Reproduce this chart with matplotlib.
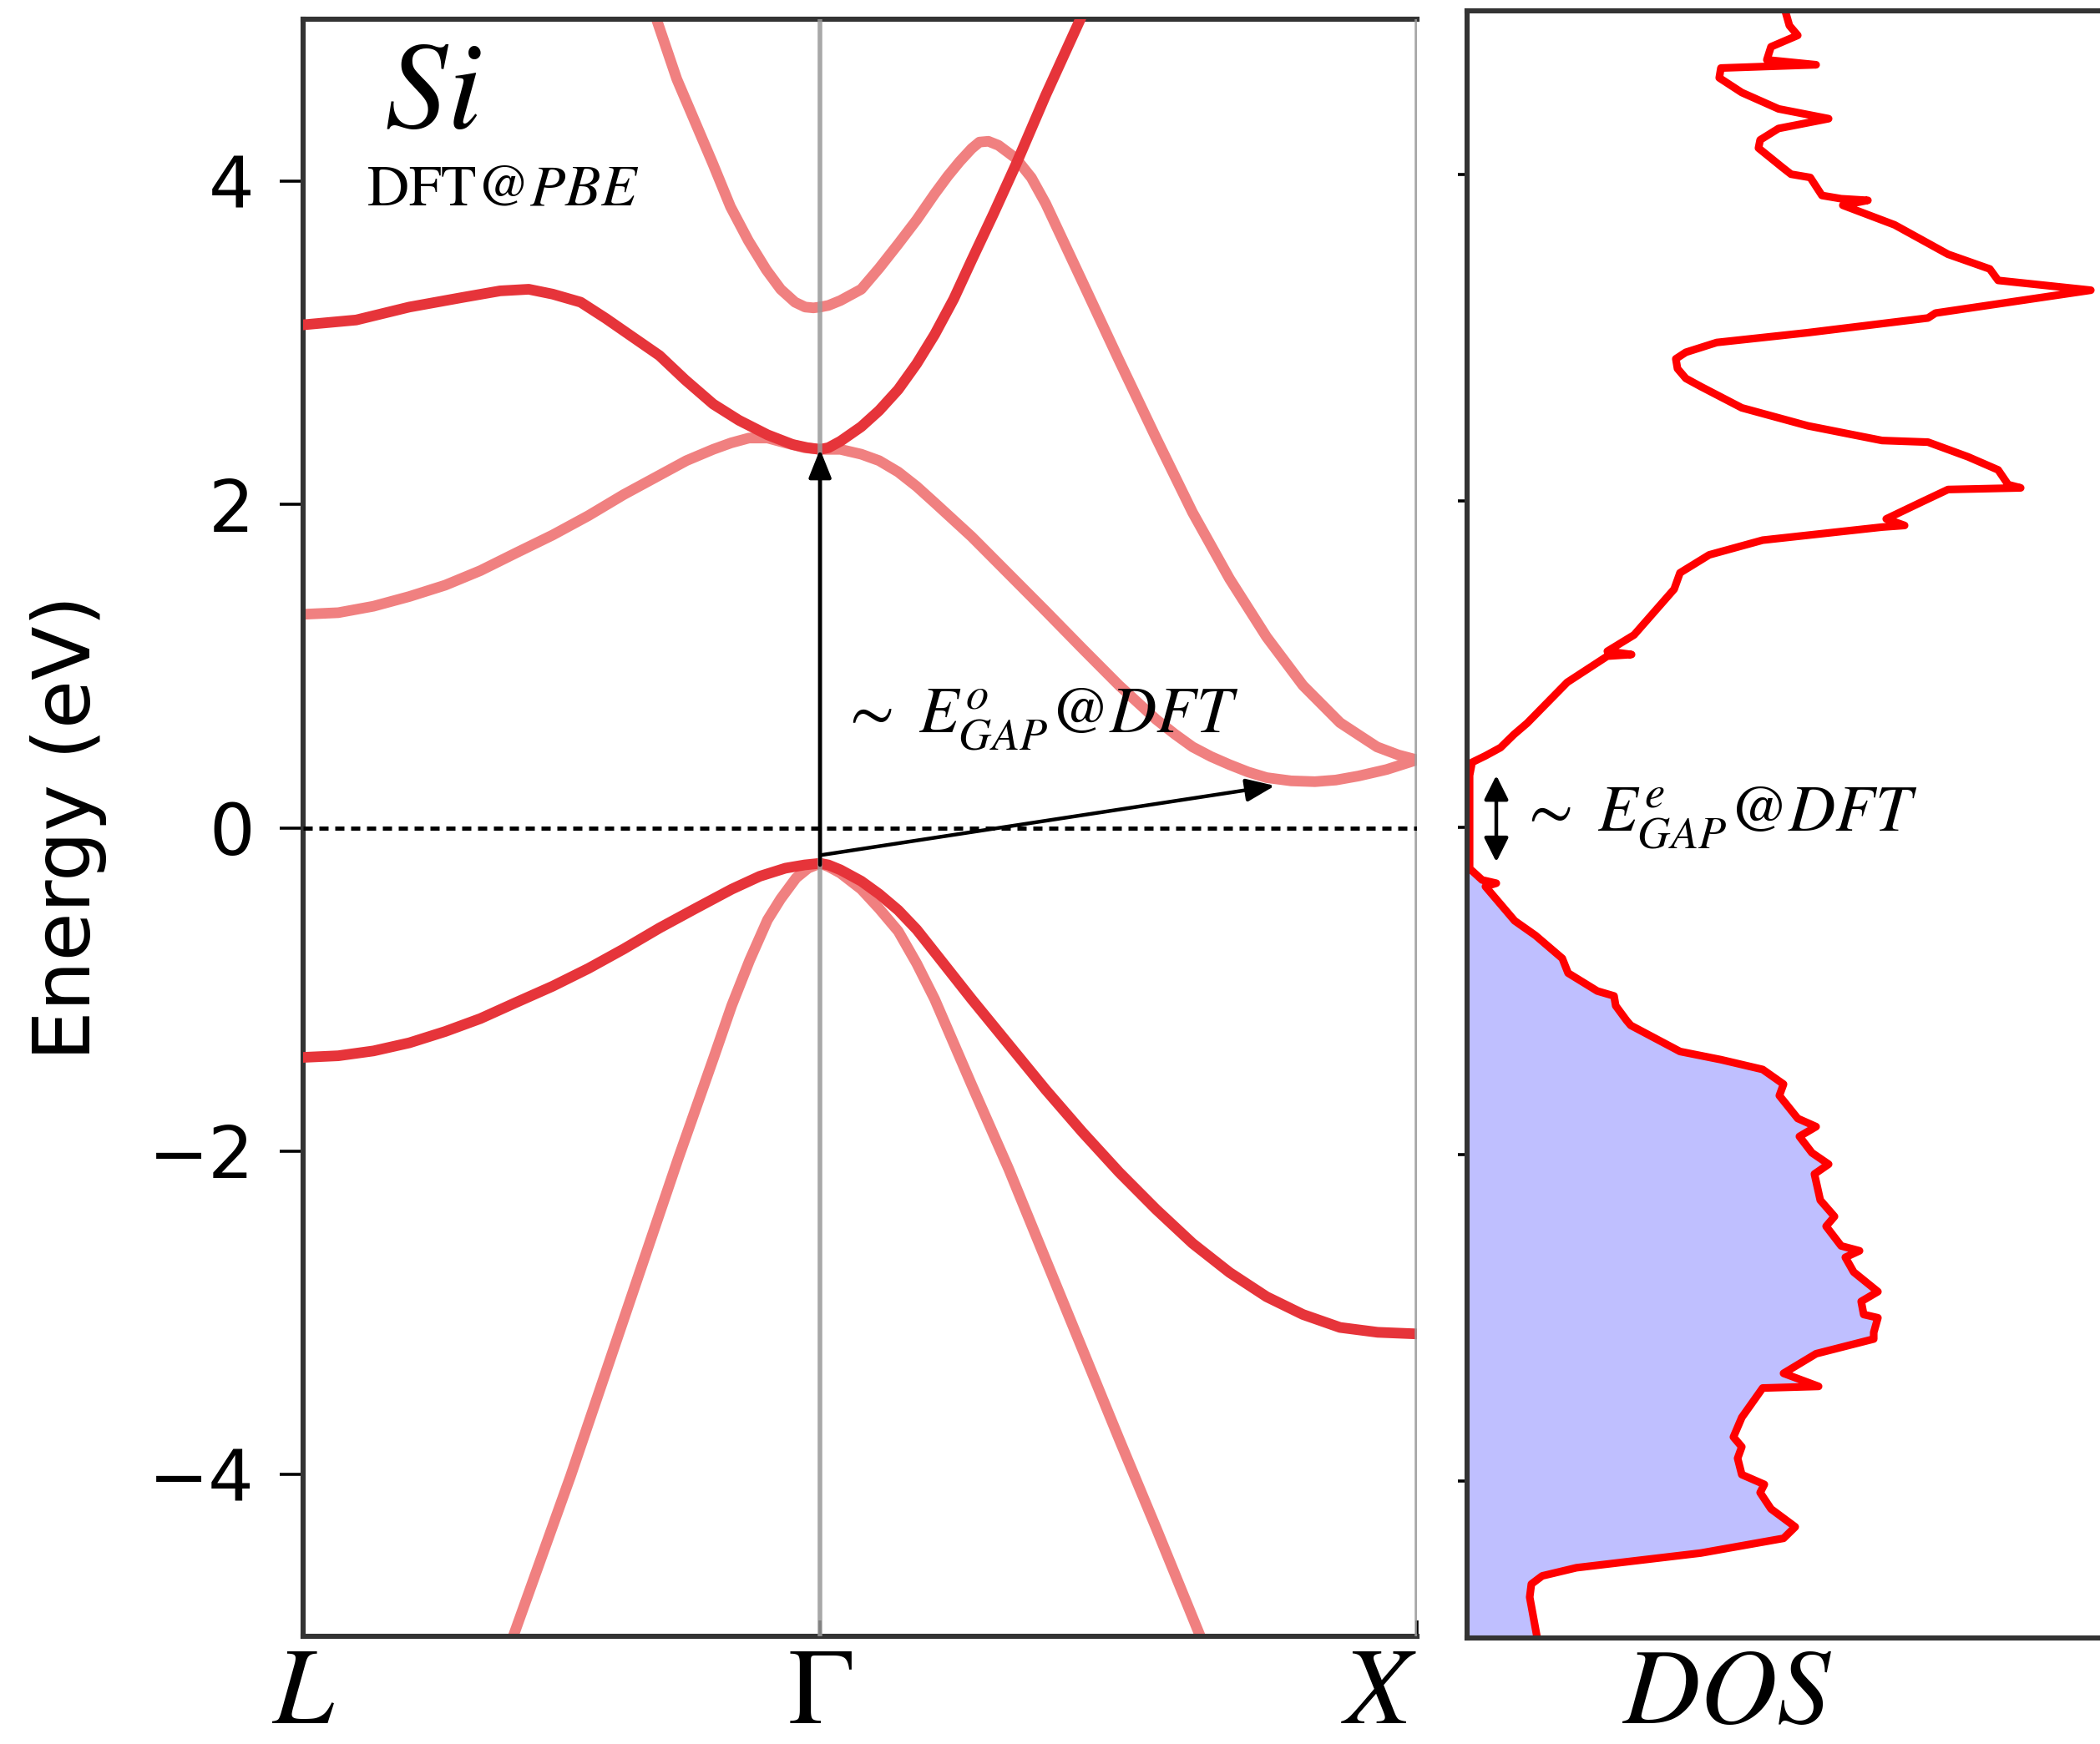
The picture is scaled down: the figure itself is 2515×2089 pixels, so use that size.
import matplotlib
matplotlib.use('Agg')
import matplotlib.pyplot as plt
import numpy as np

plt.rcParams['font.family'] = ['DejaVu Sans']
plt.rcParams['mathtext.fontset'] = 'stix'

# high-symmetry points along the path (distance in 2pi/a)
k_ticks = [0.0, 0.866, 1.866]
k_labels = [r'$L$', r'$\Gamma$', r'$X$']

# bands: (k, E in eV)
# doubly degenerate bands are drawn darker
cb2_lg_k = [0.0, 0.089, 0.178, 0.268, 0.330, 0.378, 0.418, 0.465, 0.507, 0.55, 0.597, 0.64, 0.687,
            0.73, 0.778, 0.82, 0.845, 0.866]
cb2_lg_e = [3.11, 3.14, 3.22, 3.28, 3.32, 3.33, 3.30, 3.25, 3.15, 3.04, 2.92, 2.77, 2.62,
            2.52, 2.43, 2.37, 2.35, 2.34]
cb1_lg_k = [0.0, 0.059, 0.118, 0.178, 0.238, 0.297, 0.357, 0.418, 0.478, 0.537, 0.597, 0.642,
            0.687, 0.717, 0.747, 0.778, 0.808, 0.84, 0.866]
cb1_lg_e = [1.32, 1.33, 1.37, 1.43, 1.50, 1.59, 1.70, 1.81, 1.93, 2.06, 2.18, 2.27,
            2.34, 2.38, 2.41, 2.41, 2.38, 2.35, 2.34]
cb3_lg_k = [0.555, 0.592, 0.626, 0.656, 0.686, 0.716, 0.746, 0.776, 0.800, 0.824, 0.841, 0.855, 0.866]
cb3_lg_e = [5.3, 5.0, 4.63, 4.37, 4.11, 3.84, 3.63, 3.45, 3.33, 3.25, 3.22, 3.215, 3.22]
vb1_lg_k = [0.0, 0.059, 0.118, 0.178, 0.238, 0.297, 0.357, 0.418, 0.478, 0.537, 0.597, 0.657,
            0.718, 0.765, 0.808, 0.84, 0.866]
vb1_lg_e = [-1.42, -1.41, -1.38, -1.33, -1.26, -1.18, -1.08, -0.98, -0.87, -0.75, -0.62, -0.50,
            -0.38, -0.30, -0.25, -0.23, -0.22]
vb2_lg_k = [0.32, 0.352, 0.448, 0.538, 0.628, 0.688, 0.718, 0.748, 0.778, 0.80, 0.826, 0.846, 0.866]
vb2_lg_e = [-5.3, -5.0, -4.01, -3.03, -2.05, -1.42, -1.10, -0.82, -0.57, -0.44, -0.31, -0.25, -0.22]

cb2_gx_k = [0.866, 0.88, 0.90, 0.935, 0.965, 0.997, 1.028, 1.058, 1.090, 1.120, 1.157, 1.194,
            1.244, 1.302, 1.34]
cb2_gx_e = [2.34, 2.35, 2.39, 2.48, 2.58, 2.71, 2.87, 3.05, 3.27, 3.51, 3.80, 4.10,
            4.53, 5.0, 5.3]
cb3_gx_k = [0.866, 0.88, 0.90, 0.935, 0.965, 0.997, 1.028, 1.058, 1.08, 1.10, 1.12, 1.133, 1.148,
            1.165, 1.194, 1.22, 1.244, 1.305, 1.367, 1.429, 1.490, 1.552, 1.614, 1.675, 1.737,
            1.770, 1.799, 1.835, 1.866]
cb3_gx_e = [3.22, 3.23, 3.26, 3.33, 3.46, 3.61, 3.76, 3.92, 4.03, 4.12, 4.20, 4.24, 4.245,
            4.22, 4.14, 4.02, 3.86, 3.38, 2.89, 2.41, 1.95, 1.54, 1.18, 0.88, 0.65,
            0.57, 0.50, 0.45, 0.42]
cb1_gx_k = [0.866, 0.90, 0.935, 0.965, 0.997, 1.028, 1.058, 1.120, 1.182, 1.244, 1.305, 1.367,
            1.429, 1.460, 1.490, 1.521, 1.552, 1.583, 1.614, 1.655, 1.695, 1.730, 1.768, 1.815,
            1.866]
cb1_gx_e = [2.34, 2.34, 2.31, 2.27, 2.20, 2.11, 2.01, 1.80, 1.57, 1.34, 1.11, 0.88,
            0.67, 0.58, 0.50, 0.44, 0.39, 0.345, 0.31, 0.29, 0.285, 0.295, 0.32, 0.36,
            0.42]
vb1_gx_k = [0.866, 0.88, 0.90, 0.935, 0.965, 0.997, 1.028, 1.058, 1.120, 1.182, 1.244, 1.305,
            1.367, 1.429, 1.490, 1.552, 1.614, 1.675, 1.737, 1.800, 1.866]
vb1_gx_e = [-0.22, -0.23, -0.26, -0.33, -0.41, -0.51, -0.63, -0.77, -1.06, -1.34, -1.62, -1.88,
            -2.13, -2.36, -2.57, -2.75, -2.90, -3.01, -3.09, -3.12, -3.13]
vb2_gx_k = [0.866, 0.88, 0.90, 0.935, 0.965, 0.997, 1.028, 1.058, 1.120, 1.182, 1.244, 1.305,
            1.367, 1.429, 1.503, 1.53]
vb2_gx_e = [-0.22, -0.24, -0.28, -0.38, -0.50, -0.64, -0.84, -1.06, -1.59, -2.11, -2.67, -3.22,
            -3.78, -4.33, -5.0, -5.3]

dark_bands = [(cb2_lg_k, cb2_lg_e), (vb1_lg_k, vb1_lg_e), (cb2_gx_k, cb2_gx_e), (vb1_gx_k, vb1_gx_e)]
light_bands = [(cb1_lg_k, cb1_lg_e), (cb3_lg_k, cb3_lg_e), (vb2_lg_k, vb2_lg_e),
               (cb3_gx_k, cb3_gx_e), (cb1_gx_k, cb1_gx_e), (vb2_gx_k, vb2_gx_e)]

# gap arrows (k, E)
vbm = (0.866, -0.23)
cbm_gamma = (0.866, 2.34)
indirect_start = (0.866, -0.17)
indirect_end = (1.628, 0.26)

# density of states (arbitrary units) vs energy
dos_e = [5.05, 5.0, 4.91, 4.85, 4.78, 4.70, 4.67, 4.65, 4.59, 4.50, 4.40, 4.34, 4.28, 4.21, 4.16,
         4.04, 4.00, 3.98, 3.87, 3.85, 3.84, 3.81, 3.69, 3.51, 3.42, 3.35, 3.29, 3.15, 3.12,
         3.03, 2.97, 2.91, 2.87, 2.81, 2.75, 2.70, 2.57, 2.46, 2.37, 2.36, 2.27, 2.19, 2.10, 2.08,
         2.07, 2.00, 1.89, 1.85, 1.84, 1.76, 1.67, 1.56, 1.46, 1.18, 1.08, 1.06, 1.05, 0.89,
         0.64, 0.57, 0.49, 0.44, 0.40, 0.32, 0.15, 0.0, -0.21, -0.25, -0.32, -0.34, -0.36,
         -0.57, -0.66, -0.80, -0.89, -1.00, -1.03, -1.09, -1.18, -1.21, -1.37, -1.42, -1.48,
         -1.57, -1.64, -1.78, -1.83, -1.89, -1.99, -2.06, -2.12, -2.28, -2.38, -2.44, -2.56,
         -2.59, -2.63, -2.72, -2.84, -2.90, -2.98, -3.00, -3.09, -3.13, -3.22, -3.34, -3.42,
         -3.43, -3.61, -3.73, -3.79, -3.86, -3.96, -4.02, -4.07, -4.17, -4.28, -4.35, -4.44,
         -4.53, -4.58, -4.63, -4.71, -4.96, -5.05]
dos_v = [3.80, 3.81, 3.86, 3.96, 3.64, 3.59, 4.18, 3.04, 3.02, 3.29, 3.73, 4.33, 3.73, 3.51, 3.49,
         3.78, 3.88, 4.11, 4.25, 4.48, 4.80, 4.50, 5.12, 5.76, 6.26, 6.36, 7.47, 5.61, 5.52,
         4.08, 2.99, 2.62, 2.50, 2.52, 2.62, 2.80, 3.29, 4.08, 4.97, 5.52, 6.00, 6.36, 6.48, 6.63,
         5.76, 5.47, 5.02, 5.24, 4.97, 3.54, 2.90, 2.55, 2.48, 2.00, 1.68, 1.97, 1.68, 1.20,
         0.72, 0.56, 0.40, 0.22, 0.06, 0.03, 0.03, 0.03, 0.03, 0.03, 0.18, 0.35, 0.22,
         0.57, 0.82, 1.14, 1.21, 1.56, 1.76, 1.78, 1.91, 1.96, 2.55, 3.04, 3.54,
         3.79, 3.74, 3.96, 4.18, 3.98, 4.13, 4.33, 4.16, 4.23, 4.40, 4.30, 4.48,
         4.70, 4.53, 4.63, 4.92, 4.72, 4.75, 4.92, 4.87, 4.87, 4.18, 3.79, 4.21,
         3.54, 3.29, 3.19, 3.29, 3.24, 3.29, 3.56, 3.51, 3.64, 3.93, 3.79, 2.80,
         1.31, 0.90, 0.77, 0.75, 0.84, 0.86]
occupied_top = -0.25

dark_red = '#e6343a'
light_red = '#f08080'
spine_col = '#333333'

W, H = 2515, 2089
fig = plt.figure(figsize=(W / 200, H / 200), dpi=200)

# ---- band structure panel
ax = fig.add_axes([363 / W, 1 - 1960 / H, 1334 / W, (1960 - 23) / H])
for kk, ee in light_bands:
    ax.plot(kk, ee, color=light_red, lw=4.6, solid_capstyle='round', solid_joinstyle='round', zorder=2)
for kk, ee in dark_bands:
    ax.plot(kk, ee, color=dark_red, lw=4.6, solid_capstyle='round', solid_joinstyle='round', zorder=3)
for k in k_ticks[1:]:
    ax.axvline(k, color='#999999', lw=2.0, alpha=0.85, zorder=4)
ax.axhline(0, color='k', lw=1.8, ls=(0, (2.2, 1.6)), zorder=5)

ax.annotate('', xy=cbm_gamma, xytext=vbm,
            arrowprops=dict(arrowstyle='-|>,head_length=0.4,head_width=0.16', color='k',
                            lw=1.6, shrinkA=0, shrinkB=0, mutation_scale=26), zorder=6)
ax.annotate('', xy=indirect_end, xytext=indirect_start,
            arrowprops=dict(arrowstyle='-|>,head_length=0.4,head_width=0.16', color='k',
                            lw=1.6, shrinkA=0, shrinkB=0, mutation_scale=26), zorder=6)

ax.text(0.136, 4.33, r'$Si$', fontsize=54, va='baseline', ha='left')
ax.text(0.106, 3.85, r'$\mathrm{DFT}@PBE$', fontsize=25, va='baseline', ha='left')
ax.text(0.900, 0.59, r'$\sim\ E^{o}_{GAP}@DFT$', fontsize=28, va='baseline', ha='left')

ax.set_xlim(k_ticks[0], k_ticks[-1])
ax.set_ylim(-5, 5)
ax.set_yticks([-4, -2, 0, 2, 4])
ax.set_xticks(k_ticks)
ax.set_xticklabels(k_labels, fontsize=47)
ax.get_xticklabels()[2].set_ha('right')
ax.tick_params(axis='y', direction='out', length=10, width=1.3, labelsize=31, pad=11)
ax.tick_params(axis='x', direction='in', length=7, width=1.3, pad=1.5)
ax.set_ylabel('Energy (eV)', fontsize=34)
ax.yaxis.set_label_coords(-0.176, 0.5)
for side in ['left', 'top', 'bottom']:
    ax.spines[side].set_color(spine_col)
    ax.spines[side].set_linewidth(2.2)
ax.spines['right'].set_visible(False)

# ---- DOS panel
ax2 = fig.add_axes([1757 / W, 1 - 1962 / H, (2600 - 1757) / W, (1962 - 13) / H])
dos_e_arr = np.array(dos_e)
dos_v_arr = np.array(dos_v)
occ = dos_e_arr <= occupied_top
ax2.fill_betweenx(dos_e_arr[occ], 0, dos_v_arr[occ], color='#bfbfff', lw=0, zorder=1)
ax2.plot(dos_v, dos_e, color='#ff0000', lw=3.3, solid_joinstyle='round', solid_capstyle='round', zorder=2)
ax2.annotate('', xy=(0.35, 0.32), xytext=(0.35, -0.21),
             arrowprops=dict(arrowstyle='<|-|>,head_length=0.4,head_width=0.2', color='k',
                             lw=1.6, shrinkA=0, shrinkB=0, mutation_scale=22))
ax2.text(0.62, -0.02, r'$\sim\ E^{e}_{GAP}@DFT$', fontsize=28, va='baseline', ha='left')
ax2.set_xlim(0, 8.43)
ax2.set_ylim(-4.96, 5.0)
ax2.set_yticks([-4, -2, 0, 2, 4])
ax2.set_yticklabels([])
ax2.set_xticks([])
ax2.tick_params(axis='y', direction='out', length=4, width=1.3)
ax2.set_xlabel(r'$DOS$', fontsize=46)
ax2.xaxis.set_label_coords(0.369, -0.002)
for side in ['left', 'top', 'bottom']:
    ax2.spines[side].set_color(spine_col)
    ax2.spines[side].set_linewidth(2.2)
ax2.spines['right'].set_visible(False)

fig.savefig('out.png', dpi=200)
